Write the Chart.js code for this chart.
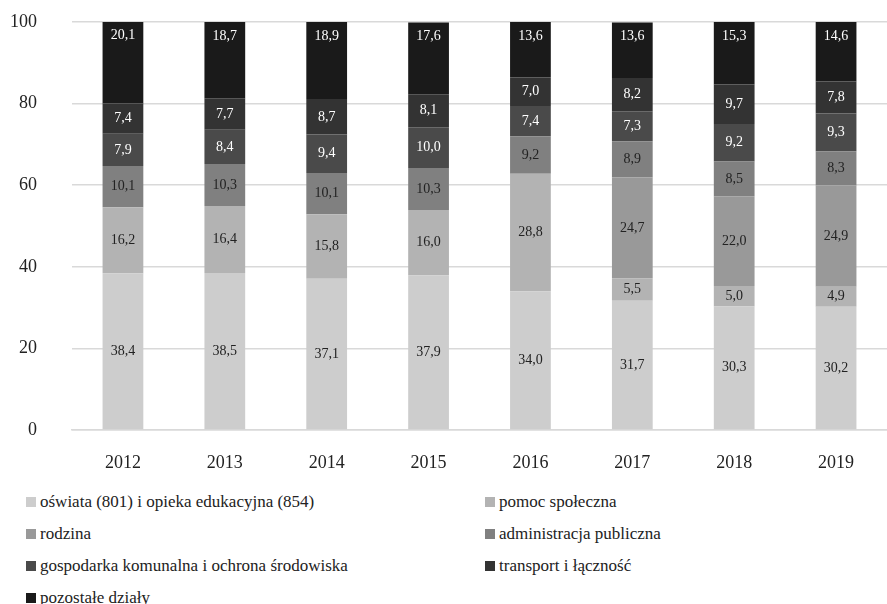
<!DOCTYPE html>
<html>
<head>
<meta charset="utf-8">
<script src="https://cdn.jsdelivr.net/npm/chart.js@4"></script>
<style>
  body { margin: 0; background: #fff; }
  #wrap { position: absolute; left: 0; top: 0; width: 887px; height: 480px; }
  #legend { position: absolute; left: 26px; top: 486px; display: grid; grid-template-columns: 459px 360px; grid-auto-rows: 32px; font-family: "Liberation Serif", "Times New Roman", serif; font-size: 17px; color: #222; }
  #legend div { display: flex; align-items: center; }
  #legend span { display: inline-block; width: 10px; height: 10px; margin-right: 4px; }
</style>
</head>
<body>
<div id="wrap"><canvas id="budgetChart"></canvas></div>
<div id="legend"></div>
<script>
const years = ['2012', '2013', '2014', '2015', '2016', '2017', '2018', '2019'];
const oswiata = [38.4, 38.5, 37.1, 37.9, 34.0, 31.7, 30.3, 30.2];
const pomoc = [16.2, 16.4, 15.8, 16.0, 28.8, 5.5, 5.0, 4.9];
const rodzina = [0, 0, 0, 0, 0, 24.7, 22.0, 24.9];
const administracja = [10.1, 10.3, 10.1, 10.3, 9.2, 8.9, 8.5, 8.3];
const gospodarka = [7.9, 8.4, 9.4, 10.0, 7.4, 7.3, 9.2, 9.3];
const transport = [7.4, 7.7, 8.7, 8.1, 7.0, 8.2, 9.7, 7.8];
const pozostale = [20.1, 18.7, 18.9, 17.6, 13.6, 13.6, 15.3, 14.6];

const seriesNames = [
  'oświata (801) i opieka edukacyjna (854)', 'pomoc społeczna', 'rodzina',
  'administracja publiczna', 'gospodarka komunalna i ochrona środowiska',
  'transport i łączność', 'pozostałe działy'
];
const seriesData = [oswiata, pomoc, rodzina, administracja, gospodarka, transport, pozostale];
const colors = ['#cdcdcd', '#b3b3b3', '#999999', '#808080', '#4a4a4a', '#333333', '#1a1a1a'];

// value labels inside the segments (top series anchored at the top)
const segmentLabels = {
  id: 'segmentLabels',
  afterDatasetsDraw(chart) {
    const ctx = chart.ctx;
    ctx.save();
    ctx.font = '14px "Liberation Serif", "Times New Roman", serif';
    ctx.textAlign = 'center';
    ctx.textBaseline = 'middle';
    chart.data.datasets.forEach((ds, i) => {
      const meta = chart.getDatasetMeta(i);
      meta.data.forEach((bar, j) => {
        const v = ds.data[j];
        if (!v) return;
        const y = i === 6 ? bar.y + 14 : (bar.y + bar.base) / 2;
        ctx.fillStyle = i >= 4 ? '#ffffff' : '#222222';
        ctx.fillText(v.toFixed(1).replace('.', ','), bar.x, y);
      });
    });
    ctx.restore();
  }
};

const budgetCtx = document.getElementById('budgetChart').getContext('2d');
new Chart(budgetCtx, {
  type: 'bar',
  data: {
    labels: years,
    datasets: seriesData.map((d, i) => ({
      label: seriesNames[i],
      data: d,
      backgroundColor: colors[i],
      barPercentage: 0.4,
      categoryPercentage: 1
    }))
  },
  options: {
    responsive: true,
    maintainAspectRatio: false,
    animation: false,
    layout: { padding: { top: 22, left: 0, right: 0, bottom: 0 } },
    scales: {
      x: {
        stacked: true,
        grid: { display: false, drawTicks: false },
        border: { color: '#d9d9d9', width: 1.5 },
        ticks: { padding: 22, color: '#222', font: { family: '"Liberation Serif", serif', size: 18 } },
        afterFit: (s) => { s.height = 50; }
      },
      y: {
        stacked: true,
        min: 0,
        max: 100,
        // invisible tick marks push the labels left without adding top padding
        grid: { color: '#d9d9d9', lineWidth: 1.5, drawTicks: true, tickLength: 35, tickColor: 'rgba(0,0,0,0)' },
        border: { display: false },
        ticks: { stepSize: 20, padding: 0, color: '#222', font: { family: '"Liberation Serif", serif', size: 18 } },
        afterFit: (s) => { s.width = 72; }
      }
    },
    plugins: {
      legend: { display: false },
      tooltip: { enabled: false }
    }
  },
  plugins: [segmentLabels]
});

// legend in two columns, as in the source
const legendEl = document.getElementById('legend');
seriesNames.forEach((name, i) => {
  const item = document.createElement('div');
  item.innerHTML = '<span style="background:' + colors[i] + '"></span>' + name;
  legendEl.appendChild(item);
});
</script>
</body>
</html>
